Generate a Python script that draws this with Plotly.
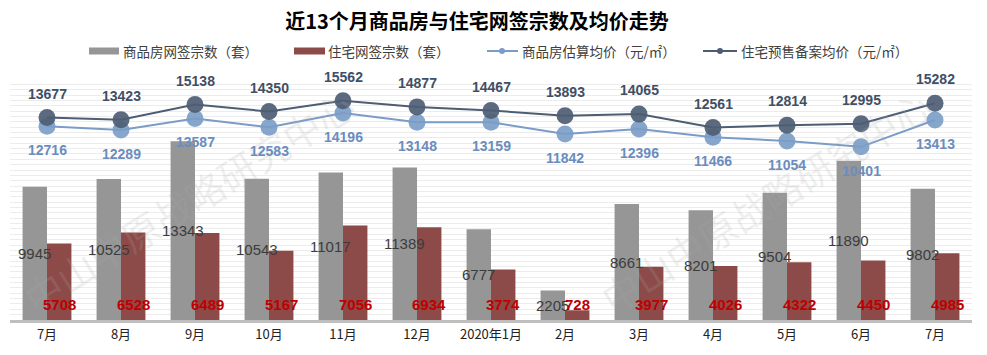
import plotly.graph_objects as go

# ---- data ----
months = ["7月", "8月", "9月", "10月", "11月", "12月", "2020年1月", "2月", "3月", "4月", "5月", "6月", "7月"]
comm_sales = [9945, 10525, 13343, 10543, 11017, 11389, 6777, 2205, 8661, 8201, 9504, 11890, 9802]
res_sales = [5708, 6528, 6489, 5167, 7056, 6934, 3774, 728, 3977, 4026, 4322, 4450, 4985]
comm_price = [12716, 12289, 13587, 12583, 14196, 13148, 13159, 11842, 12396, 11466, 11054, 10401, 13413]
res_price = [13677, 13423, 15138, 14350, 15562, 14877, 14467, 13893, 14065, 12561, 12814, 12995, 15282]

names = ["商品房网签宗数（套）", "住宅网签宗数（套）", "商品房估算均价（元/㎡）", "住宅预售备案均价（元/㎡）"]
title = "近13个月商品房与住宅网签宗数及均价走势"
watermark = "中山中原战略研究中心"

# ---- style ----
W, H = 987, 355
L, R, T, B = 10, 15, 79, 35
FONT = "Liberation Sans, Arial, 'Noto Sans CJK SC', sans-serif"
CJK = "'Noto Sans CJK SC', 'Microsoft YaHei', sans-serif"
GREY = "#969696"
RED = "#8c4b48"
LIGHT = "#7a9cc6"
DARK = "#4d5d73"
BARGAP = 0.34

x = list(range(len(months)))
fig = go.Figure()

fig.add_trace(go.Bar(x=x, y=comm_sales, name=names[0], marker=dict(color=GREY, line=dict(width=0)),
                     yaxis="y", hoverinfo="skip", showlegend=False))
fig.add_trace(go.Bar(x=x, y=res_sales, name=names[1], marker=dict(color=RED, line=dict(width=0)),
                     yaxis="y", hoverinfo="skip", showlegend=False))
fig.add_trace(go.Scatter(x=x, y=comm_price, name=names[2], mode="lines+markers",
                         line=dict(color=LIGHT, width=2),
                         marker=dict(size=17, color="rgba(122,156,198,0.9)"),
                         yaxis="y2", hoverinfo="skip", showlegend=False, cliponaxis=False))
fig.add_trace(go.Scatter(x=x, y=res_price, name=names[3], mode="lines+markers",
                         line=dict(color=DARK, width=2),
                         marker=dict(size=17, color="rgba(77,93,115,0.92)"),
                         yaxis="y2", hoverinfo="skip", showlegend=False, cliponaxis=False))

annotations = []


def px(xp):
    return (xp - L) / (W - L - R)


def py(yp):
    return (H - B - yp) / (H - T - B)


# watermarks (drawn first so data labels sit above them)
for cx, cy in [(188, 200), (765, 200)]:
    annotations.append(dict(x=px(cx), y=py(cy), xref="paper", yref="paper", xanchor="center", yanchor="middle",
                            text=watermark, showarrow=False, textangle=-32,
                            font=dict(family=CJK, size=38, color="rgba(170,170,170,0.2)")))

half = (1 - BARGAP) / 4  # offset of each bar centre from the category centre
for i, v in enumerate(comm_sales):
    annotations.append(dict(x=i - half, y=v / 2, xref="x", yref="y", text=str(v), showarrow=False,
                            font=dict(family=FONT, size=15, color="#3c3c3c")))
for i, v in enumerate(res_sales):
    annotations.append(dict(x=i + half, y=0, xref="x", yref="y", yshift=16, text=str(v), showarrow=False,
                            font=dict(family=FONT, size=15, color="#c00000", weight="bold")))
for i, v in enumerate(res_price):
    annotations.append(dict(x=i, y=v, xref="x", yref="y2", yshift=24, text=str(v), showarrow=False,
                            font=dict(family=FONT, size=14, color="#3f4f66", weight="bold")))
for i, v in enumerate(comm_price):
    annotations.append(dict(x=i, y=v, xref="x", yref="y2", yshift=-24, text=str(v), showarrow=False,
                            font=dict(family=FONT, size=14, color="#6a8dbd", weight="bold")))

# custom legend
shapes = []
LEG_Y = 51
shapes.append(dict(type="rect", xref="paper", yref="paper", x0=px(89), x1=px(119), y0=py(54.5), y1=py(47.5),
                   fillcolor=GREY, line=dict(width=0)))
shapes.append(dict(type="rect", xref="paper", yref="paper", x0=px(294), x1=px(325), y0=py(54.5), y1=py(47.5),
                   fillcolor=RED, line=dict(width=0)))
shapes.append(dict(type="line", xref="paper", yref="paper", x0=px(487), x1=px(518), y0=py(LEG_Y), y1=py(LEG_Y),
                   line=dict(color=LIGHT, width=2)))
shapes.append(dict(type="circle", xref="paper", yref="paper", x0=px(499), x1=px(505), y0=py(LEG_Y - 3), y1=py(LEG_Y + 3),
                   fillcolor=LIGHT, line=dict(width=0)))
shapes.append(dict(type="line", xref="paper", yref="paper", x0=px(703), x1=px(737), y0=py(LEG_Y), y1=py(LEG_Y),
                   line=dict(color=DARK, width=2)))
shapes.append(dict(type="circle", xref="paper", yref="paper", x0=px(717), x1=px(723), y0=py(LEG_Y - 3), y1=py(LEG_Y + 3),
                   fillcolor=DARK, line=dict(width=0)))
for xs, name in zip([121, 326, 520, 739], names):
    annotations.append(dict(x=px(xs), y=py(LEG_Y), xref="paper", yref="paper", xanchor="left", yanchor="middle",
                            text=name, showarrow=False, font=dict(family=CJK, size=13.5, color="#404040")))

fig.update_layout(
    width=W, height=H,
    margin=dict(l=L, r=R, t=T, b=B),
    paper_bgcolor="white", plot_bgcolor="white",
    barmode="group", bargap=BARGAP, bargroupgap=0,
    title=dict(text=title, x=477 / W, xref="container", xanchor="center",
               y=1 - 22 / H, yref="container", yanchor="middle",
               font=dict(family=CJK, size=20, color="#000000", weight="bold")),
    xaxis=dict(tickmode="array", tickvals=x, ticktext=months, range=[-0.5, len(months) - 0.5],
               showline=True, linecolor="#bfbfbf", linewidth=3, ticks="", showgrid=False, zeroline=False,
               tickfont=dict(family=CJK, size=13, color="#222222")),
    yaxis=dict(range=[0, 18000], dtick=400, showgrid=True, gridcolor="#ececec", gridwidth=1,
               showticklabels=False, zeroline=False, showline=False, ticks=""),
    yaxis2=dict(range=[-9000, 18000], overlaying="y", side="right", showgrid=False, showticklabels=False,
                zeroline=False, showline=False, ticks=""),
    annotations=annotations,
    shapes=shapes,
    hovermode=False,
    showlegend=False,
)

fig.write_html("out.html", config={"displayModeBar": False},
               post_script="document.body.style.margin='0';document.body.style.overflow='hidden';")
